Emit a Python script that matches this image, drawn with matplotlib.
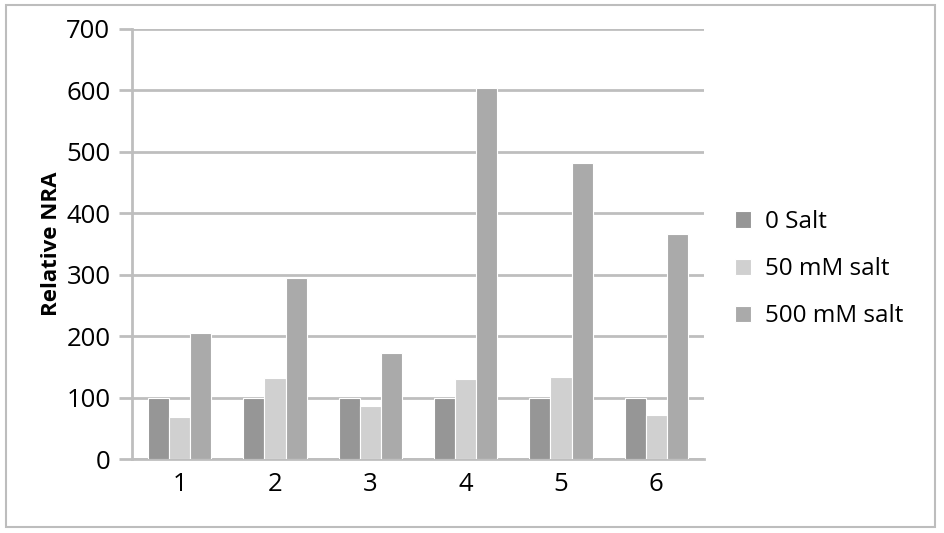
import numpy as np
import matplotlib.pyplot as plt
from matplotlib.patches import Rectangle

categories = ["1", "2", "3", "4", "5", "6"]
salt_0 = [100, 100, 100, 100, 100, 100]
salt_50 = [68, 132, 86, 130, 134, 71]
salt_500 = [205, 295, 173, 604, 482, 366]
labels = ["0 Salt", "50 mM salt", "500 mM salt"]
colors = ["#969696", "#d0d0d0", "#aaaaaa"]

plt.rcParams['font.family'] = ['Open Sans', 'DejaVu Sans']

fig = plt.figure(figsize=(9.44, 5.33), dpi=100)
ax = fig.add_axes([0.1398, 0.1388, 0.606, 0.8068])

x = np.arange(len(categories))
w = 0.222
grid_c = "#bebebe"
for i, (vals, lab, c) in enumerate(zip([salt_0, salt_50, salt_500], labels, colors)):
    ax.bar(x + (i - 1) * w, vals, w, color=c, label=lab,
           edgecolor="white", linewidth=0.8, zorder=3)

ax.set_xlim(-0.5, 5.5)
ax.set_ylim(0, 700)
ax.set_yticks(range(0, 701, 100))
ax.set_xticks(x)
ax.set_xticklabels(categories)
ax.yaxis.grid(True, color=grid_c, linewidth=2, zorder=0)
for s in ["top", "right"]:
    ax.spines[s].set_visible(False)
for s in ["left", "bottom"]:
    ax.spines[s].set_color(grid_c)
    ax.spines[s].set_linewidth(2)
ax.tick_params(axis="y", length=9.5, width=2, color=grid_c, labelsize=18.5, pad=6)
ax.tick_params(axis="x", length=0, labelsize=18.5, pad=9)
ax.set_ylabel("Relative NRA", fontsize=16, fontweight="bold", labelpad=3)

leg = fig.legend(loc="center left", bbox_to_anchor=(0.779, 0.495), frameon=False,
                 fontsize=17.5, handlelength=0.65, handleheight=0.65,
                 labelspacing=0.95, handletextpad=0.55, borderaxespad=0,
                 borderpad=0)

fig.patches.append(Rectangle((0.006, 0.012), 0.984, 0.978, transform=fig.transFigure,
                             fill=False, edgecolor="#bdbdbd", linewidth=1.5))

plt.savefig("out.png", dpi=100)
